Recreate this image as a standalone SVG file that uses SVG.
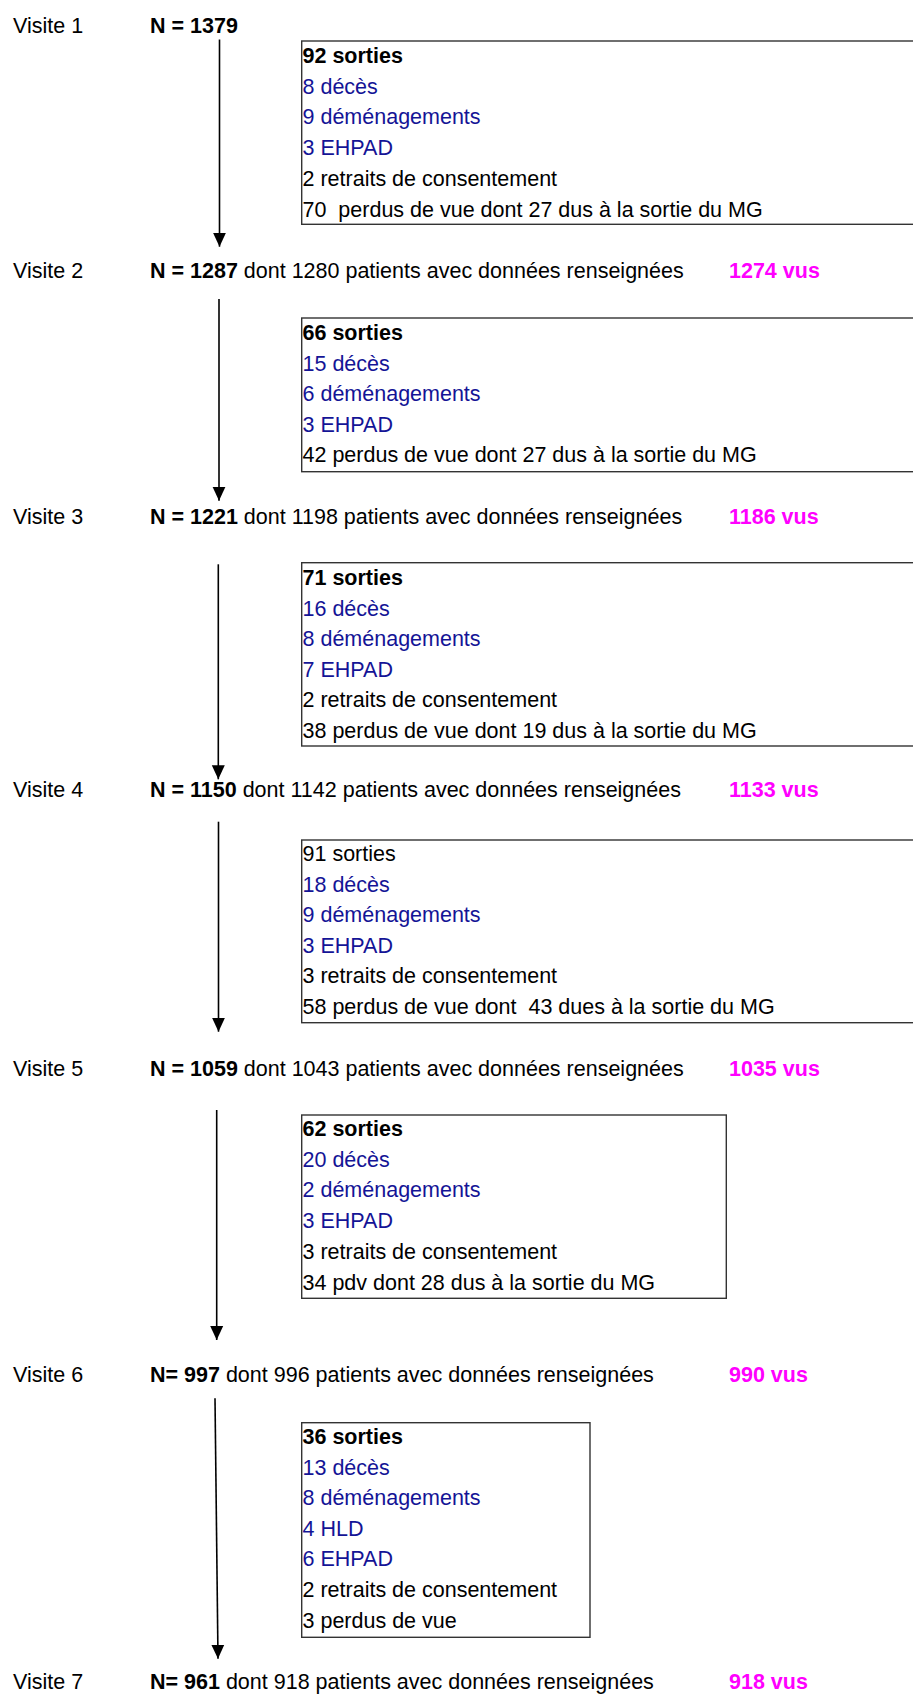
<svg xmlns="http://www.w3.org/2000/svg" width="913" height="1695" viewBox="0 0 913 1695">
<style>
text{font-family:"Liberation Sans",Arial,sans-serif;font-size:21.5px;fill:#000;white-space:pre}
.b{font-weight:bold}
.bl{fill:#141496}
.vus{fill:#FF00FF;font-weight:bold}
.box{fill:none;stroke:#333;stroke-width:1.4}
.arr{stroke:#000;stroke-width:1.6;fill:none}
</style>
<defs>
<marker id="ah" markerUnits="userSpaceOnUse" markerWidth="15" markerHeight="14" refX="14" refY="7" orient="auto" viewBox="0 0 15 14">
<path d="M0,0.5 L14,7 L0,13.5 Z" fill="#000"/>
</marker>
</defs>
<g id="visits">
<g id="v1"><text x="13" y="33">Visite 1</text><text x="150" y="33" class="b">N = 1379</text></g>
<g id="v2"><text x="13" y="277.7">Visite 2</text><text x="150" y="277.7"><tspan class="b">N = 1287</tspan> dont 1280 patients avec données renseignées</text><text x="729" y="277.7" class="vus">1274 vus</text></g>
<g id="v3"><text x="13" y="524.3">Visite 3</text><text x="150" y="524.3"><tspan class="b">N = 1221</tspan> dont 1198 patients avec données renseignées</text><text x="729" y="524.3" class="vus">1186 vus</text></g>
<g id="v4"><text x="13" y="797.3">Visite 4</text><text x="150" y="797.3"><tspan class="b">N = 1150</tspan> dont 1142 patients avec données renseignées</text><text x="729" y="797.3" class="vus">1133 vus</text></g>
<g id="v5"><text x="13" y="1075.7">Visite 5</text><text x="150" y="1075.7"><tspan class="b">N = 1059</tspan> dont 1043 patients avec données renseignées</text><text x="729" y="1075.7" class="vus">1035 vus</text></g>
<g id="v6"><text x="13" y="1382.3">Visite 6</text><text x="150" y="1382.3"><tspan class="b">N= 997</tspan> dont 996 patients avec données renseignées</text><text x="729" y="1382.3" class="vus">990 vus</text></g>
<g id="v7"><text x="13" y="1688.5">Visite 7</text><text x="150" y="1688.5"><tspan class="b">N= 961</tspan> dont 918 patients avec données renseignées</text><text x="729" y="1688.5" class="vus">918 vus</text></g>
</g>
<g id="connectors">
<line class="arr" x1="219.5" y1="39.5" x2="219.5" y2="246.7" marker-end="url(#ah)"/>
<line class="arr" x1="219" y1="299" x2="219" y2="500.7" marker-end="url(#ah)"/>
<line class="arr" x1="218.3" y1="564.3" x2="218.3" y2="779.3" marker-end="url(#ah)"/>
<line class="arr" x1="218.5" y1="821.7" x2="218.5" y2="1031.7" marker-end="url(#ah)"/>
<line class="arr" x1="216.7" y1="1110" x2="216.7" y2="1340" marker-end="url(#ah)"/>
<line class="arr" x1="215" y1="1398.3" x2="218" y2="1658.7" marker-end="url(#ah)"/>
</g>
<g id="box1">
<rect class="box" x="301.7" y="41" width="650" height="183.3"/>
<text x="302.5" y="62.7" class="b">92 sorties</text>
<text x="302.5" y="93.5" class="bl">8 décès</text>
<text x="302.5" y="124.3" class="bl">9 déménagements</text>
<text x="302.5" y="155.1" class="bl">3 EHPAD</text>
<text x="302.5" y="185.9">2 retraits de consentement</text>
<text x="302.5" y="216.7">70  perdus de vue dont 27 dus à la sortie du MG</text>
</g>
<g id="box2">
<rect class="box" x="301.7" y="318" width="650" height="153.7"/>
<text x="302.5" y="340" class="b">66 sorties</text>
<text x="302.5" y="370.5" class="bl">15 décès</text>
<text x="302.5" y="401" class="bl">6 déménagements</text>
<text x="302.5" y="431.5" class="bl">3 EHPAD</text>
<text x="302.5" y="462">42 perdus de vue dont 27 dus à la sortie du MG</text>
</g>
<g id="box3">
<rect class="box" x="301.7" y="562.7" width="650" height="183.3"/>
<text x="302.5" y="585" class="b">71 sorties</text>
<text x="302.5" y="615.6" class="bl">16 décès</text>
<text x="302.5" y="646.2" class="bl">8 déménagements</text>
<text x="302.5" y="676.8" class="bl">7 EHPAD</text>
<text x="302.5" y="707.4">2 retraits de consentement</text>
<text x="302.5" y="738">38 perdus de vue dont 19 dus à la sortie du MG</text>
</g>
<g id="box4">
<rect class="box" x="301.7" y="840" width="650" height="182.7"/>
<text x="302.5" y="861">91 sorties</text>
<text x="302.5" y="891.5" class="bl">18 décès</text>
<text x="302.5" y="922" class="bl">9 déménagements</text>
<text x="302.5" y="952.5" class="bl">3 EHPAD</text>
<text x="302.5" y="983">3 retraits de consentement</text>
<text x="302.5" y="1013.5">58 perdus de vue dont  43 dues à la sortie du MG</text>
</g>
<g id="box5">
<rect class="box" x="301.7" y="1115" width="424.6" height="183.3"/>
<text x="302.5" y="1136" class="b">62 sorties</text>
<text x="302.5" y="1166.7" class="bl">20 décès</text>
<text x="302.5" y="1197.4" class="bl">2 déménagements</text>
<text x="302.5" y="1228.1" class="bl">3 EHPAD</text>
<text x="302.5" y="1258.8">3 retraits de consentement</text>
<text x="302.5" y="1289.5">34 pdv dont 28 dus à la sortie du MG</text>
</g>
<g id="box6">
<rect class="box" x="301.7" y="1422.7" width="288.3" height="214.6"/>
<text x="302.5" y="1444" class="b">36 sorties</text>
<text x="302.5" y="1474.6" class="bl">13 décès</text>
<text x="302.5" y="1505.2" class="bl">8 déménagements</text>
<text x="302.5" y="1535.8" class="bl">4 HLD</text>
<text x="302.5" y="1566.4" class="bl">6 EHPAD</text>
<text x="302.5" y="1597">2 retraits de consentement</text>
<text x="302.5" y="1627.6">3 perdus de vue</text>
</g>
</svg>
